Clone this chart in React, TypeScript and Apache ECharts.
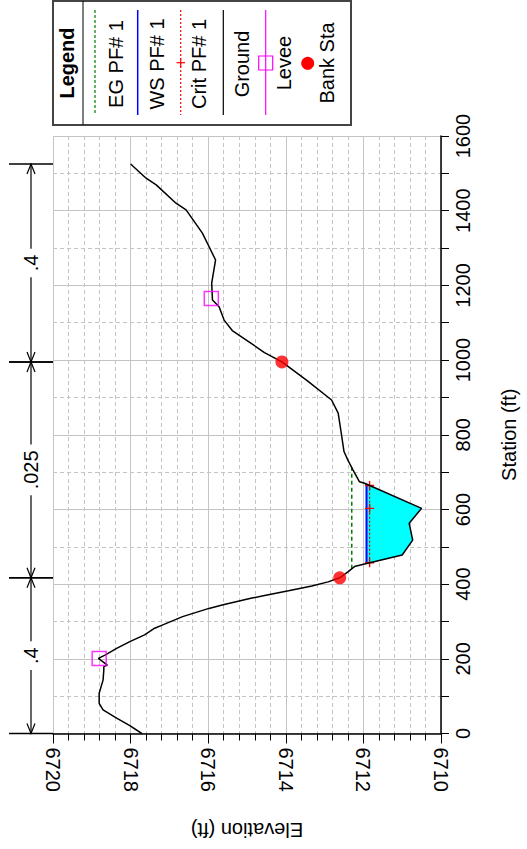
import React, { useEffect, useRef } from "react";
import * as echarts from "echarts";

// ---------- data ----------
const groundSta = [0, 21, 41, 63, 81, 108, 143, 170, 179, 183, 192, 201, 210, 228, 246, 264, 282, 291, 313, 335, 344, 362, 368, 382, 395, 406, 417, 433, 447, 454, 478, 518, 563, 603, 670, 674, 706, 732, 755, 804, 858, 893, 945, 995, 1020, 1049, 1079, 1107, 1143, 1161, 1206, 1268, 1304, 1340, 1402, 1420, 1469, 1487, 1525];
const groundElev = [6717.71, 6718.02, 6718.36, 6718.71, 6718.81, 6718.81, 6718.71, 6718.69, 6718.69, 6718.6, 6718.71, 6718.83, 6718.66, 6718.36, 6718.02, 6717.64, 6717.38, 6717.17, 6716.66, 6715.98, 6715.64, 6714.9, 6714.61, 6713.93, 6713.33, 6712.91, 6712.61, 6712.4, 6712.23, 6711.97, 6711.0, 6710.73, 6710.82, 6710.5, 6711.97, 6712.1, 6712.27, 6712.4, 6712.5, 6712.57, 6712.65, 6712.82, 6713.45, 6714.1, 6714.55, 6714.95, 6715.38, 6715.59, 6715.72, 6715.89, 6715.91, 6715.81, 6715.98, 6716.15, 6716.57, 6716.83, 6717.34, 6717.6, 6718.0];
const leveeSta = [201, 1165];
const leveeElev = [6718.81, 6715.92];
const bankSta = [417, 995];
const bankElev = [6712.61, 6714.1];
const wsElev = 6711.92;
const critElev = 6711.84;
const egElev = 6712.3;
const nStart = [0, 417, 995];
const nEnd = [417, 995, 1525];
const nValues = [".4", ".025", ".4"];
const ELEV_MIN = 6710;
const ELEV_MAX = 6720;
const ELEV_INTERVAL = 2;
const STA_MIN = 0;
const STA_MAX = 1600;
const STA_INTERVAL = 200;

const FONT = "'Liberation Sans', Arial, Helvetica, sans-serif";

// crossings of a horizontal level with the main channel
function channel(level: number) {
  let iMin = 0;
  for (let i = 1; i < groundElev.length; i++) if (groundElev[i] < groundElev[iMin]) iMin = i;
  const interp = (i: number, j: number) =>
    groundSta[i] + ((level - groundElev[i]) * (groundSta[j] - groundSta[i])) / (groundElev[j] - groundElev[i]);
  let l = iMin;
  while (l > 0 && groundElev[l - 1] < level) l--;
  let r = iMin;
  while (r < groundElev.length - 1 && groundElev[r + 1] < level) r++;
  return { left: interp(l - 1, l), right: interp(r, r + 1), l, r, thalweg: groundSta[iMin] };
}

function textWidth(s: string, size: number) {
  let w = 0;
  for (const c of s) w += c === "." ? 0.278 : 0.556;
  return w * size;
}

export default function App() {
  const ref = useRef<HTMLDivElement>(null);
  useEffect(() => {
    if (!ref.current) return;
    const chart = echarts.init(ref.current, undefined, { renderer: "svg" });

    const ws = channel(wsElev);
    const cr = channel(critElev);
    const eg = channel(egElev);
    const waterPoly: number[][] = [[wsElev, ws.left]];
    for (let i = ws.l; i <= ws.r; i++) waterPoly.push([groundElev[i], groundSta[i]]);
    waterPoly.push([wsElev, ws.right]);

    const ground = groundSta.map((s, i) => [groundElev[i], s]);
    const levee = leveeSta.map((s, i) => [leveeElev[i], s]);
    const bank = bankSta.map((s, i) => [bankElev[i], s]);

    const txt = (text: string, x: number, y: number, bold = false) => ({
      type: "text",
      x,
      y,
      rotation: Math.PI / 2,
      style: {
        text,
        fontSize: 20,
        fontFamily: FONT,
        fontWeight: bold ? "bold" : "normal",
        fill: "#000",
        align: "center",
        verticalAlign: "middle",
        textAlign: "center",
        textVerticalAlign: "middle",
      },
    });
    const vline = (x: number, stroke: string, dash?: number[], w = 1.2) => ({
      type: "line",
      shape: { x1: x, y1: 10, x2: x, y2: 115 },
      style: { stroke, lineWidth: w, lineDash: dash },
    });

    const legend = {
      type: "group",
      children: [
        { type: "rect", shape: { x: 53, y: 1, width: 298, height: 124 }, style: { fill: "#fff", stroke: "#444", lineWidth: 2 } },
        { type: "line", shape: { x1: 83, y1: 1, x2: 83, y2: 125 }, style: { stroke: "#000", lineWidth: 1 } },
        txt("Legend", 67, 63, true),
        vline(95, "#008000", [3, 2]),
        txt("EG PF# 1", 116, 64),
        vline(137.7, "#0000ff", undefined, 1.5),
        txt("WS PF# 1", 157, 64),
        vline(180.7, "#ff0000", [2, 2]),
        { type: "line", shape: { x1: 176.5, y1: 62.7, x2: 185, y2: 62.7 }, style: { stroke: "#ff0000", lineWidth: 1.2 } },
        { type: "line", shape: { x1: 180.7, y1: 58.5, x2: 180.7, y2: 67 }, style: { stroke: "#ff0000", lineWidth: 1.2 } },
        txt("Crit PF# 1", 199, 64),
        vline(223.3, "#000"),
        txt("Ground", 242, 64),
        vline(265.7, "#ff00ff"),
        { type: "rect", shape: { x: 258.7, y: 56, width: 14, height: 14 }, style: { fill: "none", stroke: "#ff00ff", lineWidth: 1.2 } },
        txt("Levee", 284, 63),
        { type: "circle", shape: { cx: 307.7, cy: 63.3, r: 6.5 }, style: { fill: "#ff0000" } },
        txt("Bank Sta", 327, 63),
      ],
    };

    const option: any = {
      animation: false,
      textStyle: { fontFamily: FONT },
      grid: { left: 53, top: 136, width: 390, height: 597.5, containLabel: false },
      xAxis: {
        type: "value",
        min: ELEV_MIN,
        max: ELEV_MAX,
        interval: ELEV_INTERVAL,
        inverse: true,
        position: "bottom",
        name: "Elevation (ft)",
        nameLocation: "middle",
        nameRotate: 180,
        nameGap: 86,
        nameTextStyle: { fontSize: 20, color: "#000", fontFamily: FONT },
        axisLine: { onZero: false, lineStyle: { color: "#000", width: 1.5 } },
        axisTick: { length: 10, lineStyle: { color: "#000", width: 1 } },
        minorTick: { show: true, splitNumber: 5, length: 7, lineStyle: { color: "#000", width: 1 } },
        axisLabel: { rotate: -90, margin: 14, fontSize: 20, color: "#000", fontFamily: FONT, formatter: (v: number) => String(v) },
        splitLine: { show: true, lineStyle: { color: "#c4c4c4", width: 1 } },
        minorSplitLine: { show: true, lineStyle: { color: "#c4c4c4", width: 1, type: [4, 3] } },
      },
      yAxis: {
        type: "value",
        min: STA_MIN,
        max: STA_MAX,
        interval: STA_INTERVAL,
        position: "right",
        name: "Station (ft)",
        nameLocation: "middle",
        nameRotate: 90,
        nameGap: 58,
        nameTextStyle: { fontSize: 20, color: "#000", fontFamily: FONT },
        axisLine: { onZero: false, lineStyle: { color: "#000", width: 1.5 } },
        axisTick: { length: 8, lineStyle: { color: "#000", width: 1 } },
        minorTick: { show: true, splitNumber: 2, length: 8, lineStyle: { color: "#000", width: 1 } },
        axisLabel: { rotate: 90, margin: 12, fontSize: 20, color: "#000", fontFamily: FONT, formatter: (v: number) => String(v) },
        splitLine: { show: true, lineStyle: { color: "#c4c4c4", width: 1 } },
        minorSplitLine: { show: true, lineStyle: { color: "#c4c4c4", width: 1, type: [4, 3] } },
      },
      graphic: [legend],
      series: [
        {
          type: "custom",
          name: "water",
          z: 1,
          data: [[wsElev, (ws.left + ws.right) / 2]],
          renderItem: (params: any, api: any) => ({
            type: "polygon",
            shape: { points: waterPoly.map((p) => api.coord(p)) },
            style: { fill: "#00ffff", stroke: "none" },
          }),
        },
        {
          type: "line",
          name: "EG PF# 1",
          z: 3,
          data: [[egElev, eg.left], [egElev, eg.right]],
          showSymbol: false,
          symbol: "none",
          lineStyle: { color: "#008000", width: 1.5, type: [4, 3] },
        },
        {
          type: "line",
          name: "WS PF# 1",
          z: 4,
          data: [[wsElev, ws.left], [wsElev, ws.right]],
          symbol: "none",
          lineStyle: { color: "#0000ff", width: 2 },
        },
        {
          type: "line",
          name: "Crit PF# 1",
          z: 5,
          data: [[critElev, cr.left], [critElev, cr.thalweg], [critElev, cr.right]],
          symbol: "path://M4.25,0h1.5v10h-1.5zM0,4.25h10v1.5h-10z",
          symbolSize: 9,
          showAllSymbol: true,
          itemStyle: { color: "#ff0000" },
          lineStyle: { color: "#ff0000", width: 1.2, type: [2, 2] },
        },
        {
          type: "line",
          name: "Ground",
          z: 6,
          data: ground,
          symbol: "none",
          lineStyle: { color: "#000", width: 1.5 },
        },
        {
          type: "scatter",
          name: "Levee",
          z: 7,
          data: levee,
          symbol: "rect",
          symbolSize: 14,
          itemStyle: { color: "rgba(0,0,0,0)", borderColor: "#ff00ff", borderWidth: 1.5 },
        },
        {
          type: "scatter",
          name: "Bank Sta",
          z: 8,
          data: bank,
          symbol: "circle",
          symbolSize: 13,
          itemStyle: { color: "#ff0000" },
        },
        {
          type: "custom",
          name: "n values",
          z: 9,
          clip: false,
          data: nStart.map((s, i) => [ELEV_MAX, s, nEnd[i]]),
          encode: { x: 0, y: 1 },
          renderItem: (params: any, api: any) => {
            const p0 = api.coord([ELEV_MAX, api.value(1)]);
            const p1 = api.coord([ELEV_MAX, api.value(2)]);
            const left = p0[0];
            const x = left - 22;
            const xs = left - 44;
            const yb = p0[1];
            const yt = p1[1];
            const yc = (yb + yt) / 2;
            const label = nValues[params.dataIndex];
            const half = textWidth(label, 20) / 2 + 6;
            const ls = { stroke: "#000", lineWidth: 1.2, fill: "none" };
            return {
              type: "group",
              children: [
                { type: "line", shape: { x1: x, y1: yb, x2: x, y2: yc + half }, style: ls },
                { type: "line", shape: { x1: x, y1: yc - half, x2: x, y2: yt }, style: ls },
                { type: "polyline", shape: { points: [[x - 4, yb - 10], [x, yb], [x + 4, yb - 10]] }, style: ls },
                { type: "polyline", shape: { points: [[x - 4, yt + 10], [x, yt], [x + 4, yt + 10]] }, style: ls },
                { type: "line", shape: { x1: xs, y1: yb, x2: left, y2: yb }, style: { stroke: "#000", lineWidth: 1.5 } },
                { type: "line", shape: { x1: xs, y1: yt, x2: left, y2: yt }, style: { stroke: "#000", lineWidth: 1.5 } },
                {
                  type: "text",
                  x,
                  y: yc,
                  rotation: Math.PI / 2,
                  style: {
                    text: label,
                    fontSize: 20,
                    fontFamily: FONT,
                    fill: "#000",
                    align: "center",
                    verticalAlign: "middle",
                    textAlign: "center",
                    textVerticalAlign: "middle",
                  },
                },
              ],
            };
          },
        },
      ],
    };
    chart.setOption(option);
    return () => chart.dispose();
  }, []);
  return <div ref={ref} style={{ position: "absolute", left: 0, top: 0, width: 527, height: 849, background: "#fff" }} />;
}
